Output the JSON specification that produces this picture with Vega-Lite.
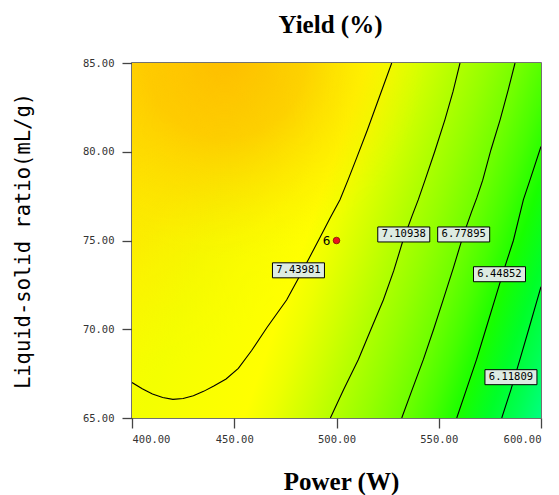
{
  "$schema": "https://vega.github.io/schema/vega-lite/v6.json",
  "width": 409,
  "height": 355,
  "autosize": "none",
  "padding": {"left": 132, "top": 63, "right": 18, "bottom": 77},
  "background": "white",
  "config": {"view": {"stroke": "#444444", "strokeWidth": 1.5}},
  "title": {"text": "Yield (%)", "font": "Liberation Serif", "fontSize": 25, "fontWeight": "bold", "color": "#000000", "anchor": "middle", "frame": "group", "baseline": "alphabetic", "offset": 0, "dx": -6},
  "datasets": {
    "field": [{"power": 400, "power2": 600, "ratio": 65, "ratio2": 85}],
    "contours": [
      {"level": "7.43981", "power": 400, "ratio": 67.0},
      {"level": "7.43981", "power": 405, "ratio": 66.65},
      {"level": "7.43981", "power": 410, "ratio": 66.35},
      {"level": "7.43981", "power": 415, "ratio": 66.15},
      {"level": "7.43981", "power": 420, "ratio": 66.05},
      {"level": "7.43981", "power": 425, "ratio": 66.1},
      {"level": "7.43981", "power": 430, "ratio": 66.25},
      {"level": "7.43981", "power": 435, "ratio": 66.5},
      {"level": "7.43981", "power": 440, "ratio": 66.8},
      {"level": "7.43981", "power": 446, "ratio": 67.2},
      {"level": "7.43981", "power": 452, "ratio": 67.8},
      {"level": "7.43981", "power": 458.5, "ratio": 68.8},
      {"level": "7.43981", "power": 466, "ratio": 70.1},
      {"level": "7.43981", "power": 475.6, "ratio": 71.65},
      {"level": "7.43981", "power": 482, "ratio": 73.0},
      {"level": "7.43981", "power": 487.5, "ratio": 74.2},
      {"level": "7.43981", "power": 492.5, "ratio": 75.3},
      {"level": "7.43981", "power": 497, "ratio": 76.3},
      {"level": "7.43981", "power": 501.7, "ratio": 77.3},
      {"level": "7.43981", "power": 505.6, "ratio": 78.4},
      {"level": "7.43981", "power": 510, "ratio": 79.7},
      {"level": "7.43981", "power": 515, "ratio": 81.2},
      {"level": "7.43981", "power": 521, "ratio": 83.1},
      {"level": "7.43981", "power": 527, "ratio": 85},
      {"level": "7.10938", "power": 497, "ratio": 65},
      {"level": "7.10938", "power": 503.5, "ratio": 66.6},
      {"level": "7.10938", "power": 510.7, "ratio": 68.3},
      {"level": "7.10938", "power": 516.5, "ratio": 69.9},
      {"level": "7.10938", "power": 522.9, "ratio": 71.65},
      {"level": "7.10938", "power": 528, "ratio": 73.3},
      {"level": "7.10938", "power": 532.5, "ratio": 75.0},
      {"level": "7.10938", "power": 537, "ratio": 76.4},
      {"level": "7.10938", "power": 540, "ratio": 77.3},
      {"level": "7.10938", "power": 543.3, "ratio": 78.4},
      {"level": "7.10938", "power": 548, "ratio": 80},
      {"level": "7.10938", "power": 553, "ratio": 81.8},
      {"level": "7.10938", "power": 557, "ratio": 83.4},
      {"level": "7.10938", "power": 560.4, "ratio": 85},
      {"level": "6.77895", "power": 531.9, "ratio": 65},
      {"level": "6.77895", "power": 537, "ratio": 66.6},
      {"level": "6.77895", "power": 542.5, "ratio": 68.3},
      {"level": "6.77895", "power": 547.5, "ratio": 70},
      {"level": "6.77895", "power": 552, "ratio": 71.6},
      {"level": "6.77895", "power": 557, "ratio": 73.4},
      {"level": "6.77895", "power": 562, "ratio": 75.3},
      {"level": "6.77895", "power": 566, "ratio": 76.6},
      {"level": "6.77895", "power": 568.6, "ratio": 77.4},
      {"level": "6.77895", "power": 571.5, "ratio": 78.4},
      {"level": "6.77895", "power": 575.5, "ratio": 80.1},
      {"level": "6.77895", "power": 580, "ratio": 81.8},
      {"level": "6.77895", "power": 584, "ratio": 83.5},
      {"level": "6.77895", "power": 587.3, "ratio": 85},
      {"level": "6.44852", "power": 558.8, "ratio": 65},
      {"level": "6.44852", "power": 563.5, "ratio": 66.6},
      {"level": "6.44852", "power": 568.5, "ratio": 68.3},
      {"level": "6.44852", "power": 573, "ratio": 70},
      {"level": "6.44852", "power": 577.5, "ratio": 71.7},
      {"level": "6.44852", "power": 582, "ratio": 73.4},
      {"level": "6.44852", "power": 586.5, "ratio": 75.0},
      {"level": "6.44852", "power": 591.4, "ratio": 77.3},
      {"level": "6.44852", "power": 594.6, "ratio": 78.4},
      {"level": "6.44852", "power": 600, "ratio": 80.3},
      {"level": "6.11809", "power": 580.8, "ratio": 65},
      {"level": "6.11809", "power": 585.3, "ratio": 66.6},
      {"level": "6.11809", "power": 589.7, "ratio": 68.3},
      {"level": "6.11809", "power": 594, "ratio": 70},
      {"level": "6.11809", "power": 598, "ratio": 71.6},
      {"level": "6.11809", "power": 600, "ratio": 72.4}
    ],
    "labels": [
      {"label": "7.43981", "power": 481.4, "ratio": 73.32},
      {"label": "7.10938", "power": 532.9, "ratio": 75.34},
      {"label": "6.77895", "power": 562.2, "ratio": 75.34},
      {"label": "6.44852", "power": 579.7, "ratio": 73.1},
      {"label": "6.11809", "power": 585.3, "ratio": 67.3}
    ],
    "design": [{"run": "6", "power": 500, "ratio": 75}]
  },
  "encoding": {
    "x": {"field": "power", "type": "quantitative",
      "scale": {"domain": [400, 600], "nice": false, "zero": false},
      "axis": {"values": [400, 450, 500, 550, 600], "format": ".2f", "grid": false, "domain": false,
        "tickSize": 10, "tickColor": "#444444", "tickWidth": 1.3,
        "labelFont": "DejaVu Sans Mono", "labelFontSize": 10.5, "labelColor": "#333333", "labelPadding": 6,
        "title": "Power (W)", "titleFont": "Liberation Serif", "titleFontSize": 25, "titleFontWeight": "bold", "titleColor": "#000000",
        "titleX": 209, "titleY": 63, "titleAlign": "center", "titleBaseline": "middle"}},
    "y": {"field": "ratio", "type": "quantitative",
      "scale": {"domain": [65, 85], "nice": false, "zero": false},
      "axis": {"values": [65, 70, 75, 80, 85], "format": ".2f", "grid": false, "domain": false,
        "tickSize": 10, "tickColor": "#444444", "tickWidth": 1.3,
        "labelFont": "DejaVu Sans Mono", "labelFontSize": 10.5, "labelColor": "#333333", "labelPadding": 8,
        "title": "Liquid-solid ratio(mL/g)", "titleFont": "DejaVu Sans Mono", "titleFontSize": 20.5, "titleFontWeight": "normal", "titleColor": "#000000",
        "titleX": -109, "titleY": 177.5, "titleAngle": -90, "titleAlign": "center", "titleBaseline": "middle"}}
  },
  "layer": [
    {
      "data": {"name": "field"},
      "mark": {"type": "rect", "stroke": null,
        "fill": {"gradient": "linear", "x1": 0, "y1": 0, "x2": 1.193, "y2": 0.358,
          "stops": [
            {"offset": 0, "color": "#FFF800"},
            {"offset": 0.25, "color": "#F4FF00"},
            {"offset": 0.35, "color": "#FAFF00"},
            {"offset": 0.44, "color": "#FFFF00"},
            {"offset": 0.49, "color": "#EEFF00"},
            {"offset": 0.55, "color": "#D2FF00"},
            {"offset": 0.61, "color": "#B4FF00"},
            {"offset": 0.67, "color": "#96FF00"},
            {"offset": 0.73, "color": "#74FF00"},
            {"offset": 0.79, "color": "#48FF00"},
            {"offset": 0.845, "color": "#18FF00"},
            {"offset": 0.9, "color": "#00FF28"},
            {"offset": 0.95, "color": "#00FF50"},
            {"offset": 1, "color": "#00FF80"}
          ]}},
      "encoding": {"x2": {"field": "power2"}, "y2": {"field": "ratio2"}}
    },
    {
      "data": {"name": "field"},
      "mark": {"type": "rect", "stroke": null,
        "fill": {"gradient": "radial", "x1": -0.147, "y1": 0.164, "r1": 0, "x2": -0.147, "y2": 0.164, "r2": 0.685,
          "stops": [
            {"offset": 0, "color": "rgba(255,200,0,0.6)"},
            {"offset": 0.5, "color": "rgba(255,210,0,0.4)"},
            {"offset": 0.8, "color": "rgba(255,225,0,0.15)"},
            {"offset": 1, "color": "rgba(255,235,0,0)"}
          ]}},
      "encoding": {"x2": {"field": "power2"}, "y2": {"field": "ratio2"}}
    },
    {
      "data": {"name": "field"},
      "mark": {"type": "rect", "stroke": null,
        "fill": {"gradient": "radial", "x1": 0.227, "y1": 0.054, "r1": 0, "x2": 0.227, "y2": 0.054, "r2": 0.489,
          "stops": [
            {"offset": 0, "color": "rgba(255,185,0,0.9)"},
            {"offset": 0.4, "color": "rgba(255,192,0,0.7)"},
            {"offset": 0.7, "color": "rgba(255,210,0,0.35)"},
            {"offset": 0.9, "color": "rgba(255,225,0,0.1)"},
            {"offset": 1, "color": "rgba(255,235,0,0)"}
          ]}},
      "encoding": {"x2": {"field": "power2"}, "y2": {"field": "ratio2"}}
    },
    {
      "data": {"name": "contours"},
      "mark": {"type": "line", "color": "#000000", "strokeWidth": 1.1, "clip": true},
      "encoding": {"detail": {"field": "level"}}
    },
    {
      "data": {"name": "labels"},
      "mark": {"type": "rect", "width": 52, "height": 15, "fill": "#DDEBE2", "stroke": "#000000", "strokeWidth": 1}
    },
    {
      "data": {"name": "labels"},
      "mark": {"type": "text", "font": "DejaVu Sans Mono", "fontSize": 10.5, "color": "#000000", "align": "center", "baseline": "middle"},
      "encoding": {"text": {"field": "label"}}
    },
    {
      "data": {"name": "design"},
      "mark": {"type": "point", "filled": true, "shape": "circle", "size": 45, "fill": "#E8141E", "stroke": "#600000", "strokeWidth": 0.6, "opacity": 1}
    },
    {
      "data": {"name": "design"},
      "mark": {"type": "text", "font": "DejaVu Sans", "fontSize": 12, "color": "#000000", "align": "center", "baseline": "middle", "dx": -10, "dy": 0},
      "encoding": {"text": {"field": "run"}}
    }
  ]
}
